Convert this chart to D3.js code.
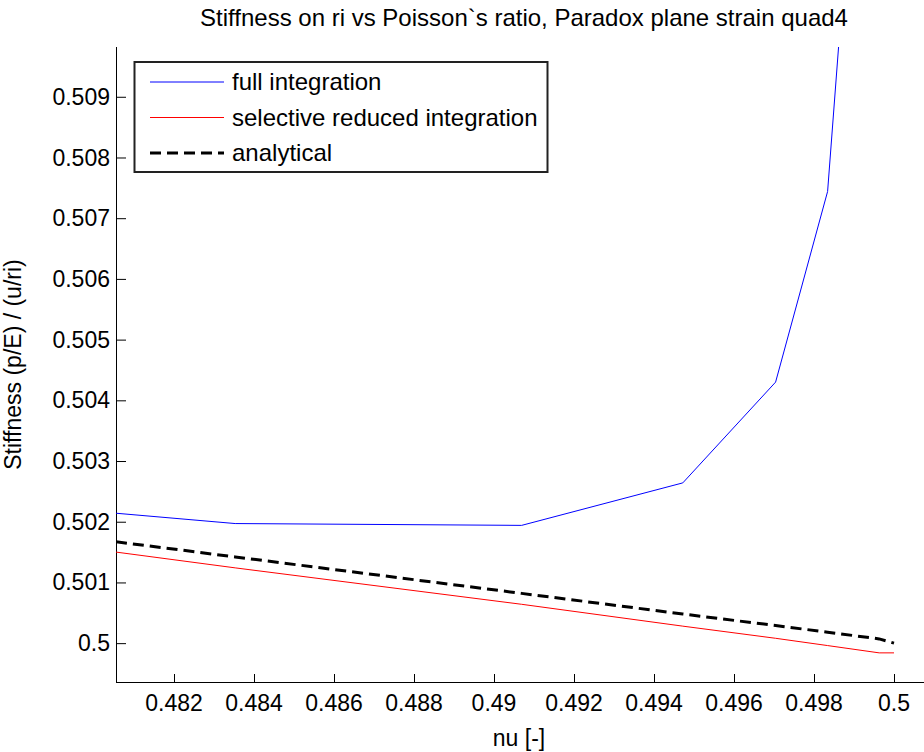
<!DOCTYPE html>
<html lang="en">
<head>
    <meta charset="UTF-8">
    <title>Stiffness vs Poisson ratio</title>
    <script src="https://d3js.org/d3.v7.min.js"></script>
    <style>
        body {
            margin: 0;
            padding: 0;
            background-color: #fff;
            font-family: "Liberation Sans", Arial, sans-serif;
        }
        svg text {
            fill: #000;
        }
    </style>
</head>
<body>
<div id="chart"></div>
<script>
    // nu values (shared by all three series)
    const nu = [0.48055, 0.48353, 0.49069, 0.49472, 0.49704, 0.49834, 0.49963, 0.5];

    const fullIntegration = [0.50214, 0.50197, 0.50194, 0.50264, 0.50430, 0.50744, 0.51863];
    const selectiveReduced = [0.50150, 0.50124, 0.50064, 0.50028, 0.50008, 0.49996, 0.49984, 0.49984];
    const analytical = [0.50167, 0.50142, 0.50082, 0.50048, 0.50029, 0.50018, 0.50007, 0.50000];

    const xTicks = [0.482, 0.484, 0.486, 0.488, 0.49, 0.492, 0.494, 0.496, 0.498, 0.5];
    const yTicks = [0.5, 0.501, 0.502, 0.503, 0.504, 0.505, 0.506, 0.507, 0.508, 0.509];

    const seriesNames = ["full integration", "selective reduced integration", "analytical"];

    const W = 924, H = 752;
    const margin = {top: 47, right: 2, bottom: 70, left: 116};

    const svg = d3.select("#chart").append("svg")
        .attr("width", W)
        .attr("height", H);

    const x = d3.scaleLinear()
        .domain([0.48055, 0.5007])
        .range([margin.left, W - margin.right]);

    const y = d3.scaleLinear()
        .domain([0.49936, 0.50982])
        .range([H - margin.bottom, margin.top]);

    svg.append("defs").append("clipPath")
        .attr("id", "plotClip")
        .append("rect")
        .attr("x", margin.left)
        .attr("y", margin.top)
        .attr("width", W - margin.right - margin.left)
        .attr("height", H - margin.bottom - margin.top);

    // axes (ticks pointing inward, like matlab)
    const xAxis = svg.append("g")
        .attr("transform", `translate(0,${H - margin.bottom})`)
        .call(d3.axisTop(x).tickValues(xTicks).tickSize(8).tickFormat(""));
    xAxis.select(".domain").remove();

    const yAxis = svg.append("g")
        .attr("transform", `translate(${margin.left},0)`)
        .call(d3.axisRight(y).tickValues(yTicks).tickSize(10).tickFormat(""));
    yAxis.select(".domain").remove();

    svg.append("line")
        .attr("x1", margin.left).attr("x2", W)
        .attr("y1", H - margin.bottom + 0.5).attr("y2", H - margin.bottom + 0.5)
        .attr("stroke", "#000");
    svg.append("line")
        .attr("x1", margin.left + 0.5).attr("x2", margin.left + 0.5)
        .attr("y1", margin.top).attr("y2", H - margin.bottom)
        .attr("stroke", "#000");

    svg.selectAll(".xlab")
        .data(xTicks)
        .enter().append("text")
        .attr("class", "xlab")
        .attr("x", d => x(d))
        .attr("y", H - margin.bottom + 29)
        .attr("text-anchor", "middle")
        .style("font-size", "23px")
        .text(d => d3.format("")(d));

    svg.selectAll(".ylab")
        .data(yTicks)
        .enter().append("text")
        .attr("class", "ylab")
        .attr("x", margin.left - 6)
        .attr("y", d => y(d))
        .attr("dy", "0.35em")
        .attr("text-anchor", "end")
        .style("font-size", "23px")
        .text(d => d3.format("")(d));

    // titles
    svg.append("text")
        .attr("x", 524)
        .attr("y", 26)
        .attr("text-anchor", "middle")
        .style("font-size", "24px")
        .text("Stiffness on ri vs Poisson`s ratio, Paradox plane strain quad4");

    svg.append("text")
        .attr("x", 519)
        .attr("y", 746)
        .attr("text-anchor", "middle")
        .style("font-size", "23px")
        .text("nu [-]");

    svg.append("text")
        .attr("transform", `translate(21,${(margin.top + H - margin.bottom) / 2}) rotate(-90)`)
        .attr("text-anchor", "middle")
        .style("font-size", "23px")
        .text("Stiffness (p/E) / (u/ri)");

    // lines
    const line = d3.line()
        .x(d => x(d[0]))
        .y(d => y(d[1]));

    const plot = svg.append("g").attr("clip-path", "url(#plotClip)");

    plot.append("path")
        .datum(d3.zip(nu, fullIntegration))
        .attr("d", line)
        .attr("fill", "none")
        .attr("stroke", "#0000ff")
        .attr("stroke-width", 1);

    plot.append("path")
        .datum(d3.zip(nu, selectiveReduced))
        .attr("d", line)
        .attr("fill", "none")
        .attr("stroke", "#ff0000")
        .attr("stroke-width", 1);

    plot.append("path")
        .datum(d3.zip(nu, analytical))
        .attr("d", line)
        .attr("fill", "none")
        .attr("stroke", "#000")
        .attr("stroke-width", 3)
        .attr("stroke-dasharray", "11,6");

    // legend
    const legend = svg.append("g");
    legend.append("rect")
        .attr("x", 134.5)
        .attr("y", 62)
        .attr("width", 413)
        .attr("height", 110)
        .attr("fill", "#fff")
        .attr("stroke", "#222")
        .attr("stroke-width", 2);

    const legendStyles = [
        {color: "#0000ff", width: 1, dash: null},
        {color: "#ff0000", width: 1, dash: null},
        {color: "#000", width: 3, dash: "11,6"}
    ];

    seriesNames.forEach((name, i) => {
        const ly = 82 + i * 35.5;
        legend.append("line")
            .attr("x1", 150).attr("x2", 224)
            .attr("y1", ly).attr("y2", ly)
            .attr("stroke", legendStyles[i].color)
            .attr("stroke-width", legendStyles[i].width)
            .attr("stroke-dasharray", legendStyles[i].dash);
        legend.append("text")
            .attr("x", 232)
            .attr("y", ly)
            .attr("dy", "0.35em")
            .style("font-size", "24px")
            .text(name);
    });
</script>
</body>
</html>
